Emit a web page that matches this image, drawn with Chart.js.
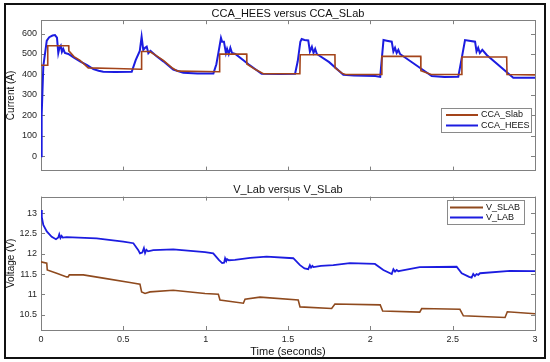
<!DOCTYPE html>
<html>
<head>
<meta charset="utf-8">
<script src="https://cdn.jsdelivr.net/npm/chart.js@4"></script>
<style>
  html,body{margin:0;padding:0;background:#fff;}
  #wrap{position:relative;width:550px;height:362px;overflow:hidden;}
  canvas{position:absolute;left:0;}
  #c1{top:0;}
  #c2{top:180px;}
  #frame{position:absolute;left:4px;top:3px;width:542px;height:356px;box-sizing:border-box;border:2px solid #111;pointer-events:none;}
</style>
</head>
<body>
<div id="wrap">
  <canvas id="c1" width="550" height="180"></canvas>
  <canvas id="c2" width="550" height="182"></canvas>
  <div id="frame"></div>
</div>
<script>
// two stacked plots: current (top) and voltage (bottom)

const xTicks = [0, 0.5, 1, 1.5, 2, 2.5, 3];
const xTickLabels = ['0', '0.5', '1', '1.5', '2', '2.5', '3'];
const currentTicks = [0, 100, 200, 300, 400, 500, 600];
const voltTicks = [10.5, 11, 11.5, 12, 12.5, 13];

// CCA_Slab (brown, stepped)
const tSlab = [0, 0.04, 0.041, 0.168, 0.169, 0.2, 0.237, 0.287, 0.45, 0.608, 0.611, 0.66, 0.7, 0.743, 0.8, 0.83, 1.0, 1.083,
  1.085, 1.249, 1.25, 1.3, 1.35, 1.572, 1.574, 1.785, 1.786, 1.83, 1.85, 2.068, 2.07, 2.306, 2.307, 2.37, 2.554, 2.556,
  2.828, 2.83, 3.0];
const iSlab = [445, 445, 540, 540, 515, 487, 469, 432, 429, 425, 512, 512, 492, 469, 430, 416, 414, 413,
  499, 499, 451, 425, 403, 403, 496, 496, 432, 405, 400, 400, 488, 488, 418, 400, 400, 485,
  485, 400, 398];

// CCA_HEES (blue)
const tHees = [0, 0.004, 0.014, 0.035, 0.05, 0.07, 0.085, 0.097, 0.105, 0.112, 0.12, 0.127, 0.135, 0.145, 0.166, 0.2, 0.237,
  0.28, 0.318, 0.35, 0.378, 0.45, 0.551, 0.575, 0.6, 0.611, 0.621, 0.632, 0.642, 0.652, 0.665, 0.7, 0.743, 0.803, 0.864,
  0.95, 1.047, 1.065, 1.077, 1.093, 1.1, 1.111, 1.123, 1.13, 1.14, 1.15, 1.16, 1.18, 1.26, 1.34, 1.45, 1.543, 1.559,
  1.575, 1.583, 1.6, 1.623, 1.633, 1.645, 1.655, 1.665, 1.675, 1.75, 1.836, 1.9, 2.03, 2.06, 2.07, 2.08, 2.1, 2.13,
  2.14, 2.15, 2.16, 2.17, 2.18, 2.373, 2.45, 2.534, 2.555, 2.575, 2.6, 2.636, 2.645, 2.655, 2.665, 2.68, 2.707, 2.868, 3.0];
const iHees = [0, 200, 440, 565, 582, 590, 592, 580, 505, 530, 540, 510, 525, 505, 500, 482, 464,
  445, 426, 418, 413, 412, 413, 470, 515, 584, 520, 530, 536, 504, 515, 490, 464, 424, 408,
  405, 405, 450, 504, 579, 560, 560, 504, 525, 500, 530, 505, 500, 450, 403, 402, 403, 464,
  560, 573, 568, 566, 512, 535, 505, 525, 500, 460, 398, 395, 392, 388, 480, 568, 565, 560,
  512, 530, 505, 520, 500, 392, 387, 388, 480, 568, 565, 560, 512, 530, 505, 520, 495, 384, 384];

// V_SLAB (brown)
const tVslab = [0, 0.035, 0.038, 0.095, 0.156, 0.165, 0.172, 0.257, 0.378, 0.54, 0.601, 0.611, 0.632, 0.662, 0.803, 0.996,
  1.077, 1.087, 1.229, 1.239, 1.33, 1.562, 1.573, 1.765, 1.785, 2.06, 2.075, 2.3, 2.312, 2.544, 2.565, 2.818, 2.832, 3.0];
const vSlab = [11.8, 11.77, 11.6, 11.52, 11.43, 11.43, 11.48, 11.48, 11.4, 11.29, 11.25, 11.06, 11.02, 11.06, 11.1, 11.02,
  11.0, 10.86, 10.78, 10.88, 10.93, 10.86, 10.69, 10.65, 10.76, 10.74, 10.59, 10.56, 10.65, 10.63, 10.47, 10.43, 10.57, 10.52];

// V_LAB (blue)
const tVlab = [0, 0.005, 0.014, 0.035, 0.065, 0.091, 0.105, 0.111, 0.118, 0.125, 0.132, 0.156, 0.338, 0.5, 0.561, 0.591,
  0.601, 0.615, 0.625, 0.632, 0.64, 0.65, 0.682, 0.803, 0.996, 1.046, 1.08, 1.1, 1.112, 1.118, 1.125, 1.13, 1.14, 1.178,
  1.27, 1.37, 1.532, 1.573, 1.6, 1.623, 1.633, 1.64, 1.648, 1.655, 1.7, 1.775, 1.876, 2.028, 2.079, 2.13, 2.14, 2.15,
  2.16, 2.17, 2.18, 2.3, 2.524, 2.555, 2.6, 2.615, 2.625, 2.635, 2.645, 2.655, 2.666, 2.848, 3.0];
const vLab = [13.08, 12.9, 12.71, 12.55, 12.42, 12.36, 12.4, 12.48, 12.39, 12.44, 12.4, 12.41, 12.38, 12.3, 12.26, 12.09,
  12.01, 12.03, 12.14, 12.02, 12.1, 12.06, 12.09, 12.11, 12.04, 12.01, 11.85, 11.77, 11.78, 11.89, 11.82, 11.87, 11.84, 11.85,
  11.9, 11.93, 11.89, 11.72, 11.64, 11.62, 11.72, 11.66, 11.7, 11.67, 11.7, 11.72, 11.77, 11.75, 11.6, 11.5, 11.62, 11.56,
  11.6, 11.57, 11.58, 11.67, 11.68, 11.52, 11.43, 11.41, 11.5, 11.45, 11.5, 11.48, 11.52, 11.58, 11.57];

const FONT = "'Liberation Sans', Arial, Helvetica, sans-serif";
const BROWN = '#a3441a';
const BLUE = '#1c1ce0';
const AXIS = '#808080';

function pts(t, v){ return t.map((x, i) => ({ x, y: v[i] })); }

// matlab style box with inward ticks
const boxAxes = {
  id: 'boxAxes',
  beforeDatasetsDraw(chart){
    const { ctx, chartArea: a, scales } = chart;
    const len = 4;
    ctx.save();
    ctx.strokeStyle = AXIS;
    ctx.lineWidth = 1;
    ctx.strokeRect(Math.round(a.left) + 0.5, Math.round(a.top) + 0.5, Math.round(a.right - a.left), Math.round(a.bottom - a.top));
    ctx.beginPath();
    xTicks.forEach(v => {
      const px = Math.round(scales.x.getPixelForValue(v)) + 0.5;
      ctx.moveTo(px, a.bottom); ctx.lineTo(px, a.bottom - len);
      ctx.moveTo(px, a.top); ctx.lineTo(px, a.top + len);
    });
    scales.y.ticks.forEach(tk => {
      const py = Math.round(scales.y.getPixelForValue(tk.value)) + 0.5;
      ctx.moveTo(a.left, py); ctx.lineTo(a.left + len, py);
      ctx.moveTo(a.right, py); ctx.lineTo(a.right - len, py);
    });
    ctx.stroke();
    ctx.restore();
  }
};

// legend box inside plot
const boxLegend = {
  id: 'boxLegend',
  afterDatasetsDraw(chart, args, opts){
    const { ctx } = chart;
    ctx.save();
    ctx.fillStyle = '#fff';
    ctx.fillRect(opts.x, opts.y, opts.w, opts.h);
    ctx.strokeStyle = '#8a8a8a';
    ctx.lineWidth = 1;
    ctx.strokeRect(opts.x + 0.5, opts.y + 0.5, opts.w, opts.h);
    ctx.font = '9px ' + FONT;
    ctx.textBaseline = 'middle';
    chart.data.datasets.forEach((ds, i) => {
      const y = opts.y + opts.first + i * opts.step;
      ctx.strokeStyle = ds.borderColor;
      ctx.lineWidth = 2;
      ctx.beginPath();
      ctx.moveTo(opts.x + opts.lineX0, y);
      ctx.lineTo(opts.x + opts.lineX1, y);
      ctx.stroke();
      ctx.fillStyle = '#111';
      ctx.fillText(ds.label, opts.x + opts.textX, y);
    });
    ctx.restore();
  }
};

function xScale(showLabels, height){
  return {
    type: 'linear', min: 0, max: 3,
    grid: { display: false, drawTicks: false },
    border: { display: false },
    afterBuildTicks: s => { s.ticks = xTicks.map(v => ({ value: v })); },
    afterFit: s => { s.height = height; },
    ticks: {
      display: showLabels, padding: 4, color: '#262626', font: { family: FONT, size: 9 },
      maxRotation: 0, autoSkip: false,
      callback: (v) => { const i = xTicks.indexOf(v); return i >= 0 ? xTickLabels[i] : ''; }
    },
    title: {
      display: showLabels, text: 'Time (seconds)', color: '#111',
      font: { family: FONT, size: 11 }, padding: { top: 0, bottom: 3 }
    }
  };
}

function yScale(min, max, ticks, label){
  return {
    type: 'linear', min, max,
    grid: { display: false, drawTicks: false },
    border: { display: false },
    afterBuildTicks: s => { s.ticks = ticks.map(v => ({ value: v })); },
    afterFit: s => { s.width = 41; },
    ticks: { padding: 4, color: '#262626', font: { family: FONT, size: 9 }, callback: v => String(v) },
    title: {
      display: true, text: label, color: '#111',
      font: { family: FONT, size: 10 }, padding: { top: 5, bottom: 0 }
    }
  };
}

function lineSet(label, data, color, width){
  return { label, data, borderColor: color, backgroundColor: color, borderWidth: width,
    pointRadius: 0, tension: 0, fill: false };
}

new Chart(document.getElementById('c1'), {
  type: 'line',
  data: { datasets: [
    lineSet('CCA_Slab', pts(tSlab, iSlab), BROWN, 1.6),
    lineSet('CCA_HEES', pts(tHees, iHees), BLUE, 2)
  ] },
  options: {
    responsive: false, animation: false, parsing: false,
    layout: { padding: { left: 0, right: 15, top: 0, bottom: 0 } },
    plugins: {
      legend: { display: false }, tooltip: { enabled: false },
      title: { display: true, fullSize: false, text: 'CCA_HEES versus CCA_SLab', color: '#111',
        font: { family: FONT, size: 11, weight: 'normal' }, padding: { top: 7, bottom: 0 } },
      boxLegend: { x: 441, y: 108, w: 90, h: 24, first: 7, step: 10.5, lineX0: 5, lineX1: 37, textX: 40 }
    },
    scales: { x: xScale(false, 7), y: yScale(-70, 665, currentTicks, 'Current (A)') }
  },
  plugins: [boxAxes, boxLegend]
});

new Chart(document.getElementById('c2'), {
  type: 'line',
  data: { datasets: [
    lineSet('V_SLAB', pts(tVslab, vSlab), '#8f4a1e', 1.6),
    lineSet('V_LAB', pts(tVlab, vLab), BLUE, 1.8)
  ] },
  options: {
    responsive: false, animation: false, parsing: false,
    layout: { padding: { left: 0, right: 15, top: 0, bottom: 0 } },
    plugins: {
      legend: { display: false }, tooltip: { enabled: false },
      title: { display: true, fullSize: false, text: 'V_Lab versus V_SLab', color: '#111',
        font: { family: FONT, size: 11, weight: 'normal' }, padding: { top: 3.4, bottom: 0 } },
      boxLegend: { x: 447, y: 20, w: 77, h: 24, first: 7.5, step: 10, lineX0: 3, lineX1: 36, textX: 39 }
    },
    scales: { x: xScale(true, 32), y: yScale(10.12, 13.41, voltTicks, 'Voltage (V)') }
  },
  plugins: [boxAxes, boxLegend]
});
</script>
</body>
</html>
